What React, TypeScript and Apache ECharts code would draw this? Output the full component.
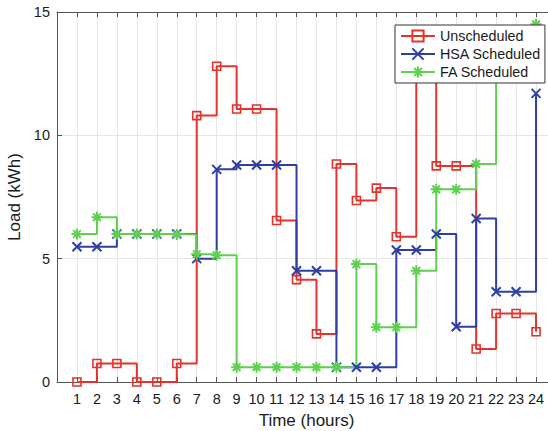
import React, { useEffect, useRef } from "react";
import * as echarts from "echarts";

const hours = [1, 2, 3, 4, 5, 6, 7, 8, 9, 10, 11, 12, 13, 14, 15, 16, 17, 18, 19, 20, 21, 22, 23, 24];
const unscheduled = [0, 0.75, 0.75, 0, 0, 0.75, 10.8, 12.8, 11.07, 11.07, 6.55, 4.15, 1.95, 8.84, 7.36, 7.86, 5.89, 13.5, 8.76, 8.76, 1.34, 2.78, 2.78, 2.04];
const hsaScheduled = [5.48, 5.48, 6.0, 6.0, 6.0, 6.0, 5.0, 8.62, 8.8, 8.8, 8.8, 4.51, 4.51, 0.6, 0.6, 0.6, 5.35, 5.35, 6.0, 2.24, 6.63, 3.66, 3.66, 11.7];
const faScheduled = [6.0, 6.68, 6.0, 6.0, 6.0, 5.98, 5.18, 5.14, 0.6, 0.6, 0.6, 0.6, 0.6, 0.6, 4.78, 2.22, 2.22, 4.51, 7.81, 7.81, 8.84, 13.0, 13.5, 14.5];
const yTicks = [0, 5, 10, 15];

const RED = "#e4332c";
const BLUE = "#2e3fa3";
const GREEN = "#5fcf4f";
const FONT = "Arial, 'Liberation Sans', Helvetica, sans-serif";

export default function App() {
  const ref = useRef<HTMLDivElement>(null);
  useEffect(() => {
    document.body.style.margin = "0";
    const chart = echarts.init(ref.current!, null, { renderer: "svg" });
    const pts = (arr: number[]) => hours.map((h, i) => [h, arr[i]]);
    const option: any = {
      animation: false,
      backgroundColor: "#ffffff",
      textStyle: { fontFamily: FONT },
      grid: { left: 57, top: 12, width: 499, height: 370, outerBoundsMode: "none", containLabel: false },
      legend: {
        orient: "vertical",
        left: 395,
        top: 25,
        padding: [4, 4, 4, 5],
        itemGap: 4,
        itemWidth: 34,
        itemHeight: 14,
        backgroundColor: "#ffffff",
        borderColor: "#333333",
        borderWidth: 1,
        borderRadius: 0,
        textStyle: { fontSize: 14.3, color: "#1a1a1a", fontFamily: FONT },
        data: ["Unscheduled", "HSA Scheduled", "FA Scheduled"],
        z: 10,
      },
      xAxis: [
        {
          type: "value",
          min: 0,
          max: 25,
          interval: 1,
          name: "Time (hours)",
          nameLocation: "middle",
          nameGap: 30,
          nameTextStyle: { fontSize: 17, color: "#1a1a1a", fontFamily: FONT },
          axisLine: { show: true, onZero: false, lineStyle: { color: "#555555", width: 1 } },
          axisTick: { show: true, inside: true, length: 5, lineStyle: { color: "#555555" } },
          axisLabel: {
            margin: 9,
            fontSize: 14.5,
            color: "#1a1a1a",
            fontFamily: FONT,
            formatter: (v: number) => (hours.indexOf(v) >= 0 ? String(v) : ""),
          },
          splitLine: { show: true, lineStyle: { color: "#e6e6e6", width: 1 } },
        },
        {
          type: "value",
          position: "top",
          min: 0,
          max: 25,
          interval: 1,
          axisLine: { show: true, onZero: false, lineStyle: { color: "#555555", width: 1 } },
          axisTick: { show: true, inside: true, length: 5, lineStyle: { color: "#555555" } },
          axisLabel: { show: false },
          splitLine: { show: false },
        },
      ],
      yAxis: {
        type: "value",
        min: 0,
        max: 15,
        interval: 5,
        name: "Load (kWh)",
        nameLocation: "middle",
        nameGap: 30,
        nameTextStyle: { fontSize: 17, color: "#1a1a1a", fontFamily: FONT },
        axisLine: { show: true, onZero: false, lineStyle: { color: "#555555", width: 1 } },
        axisTick: { show: true, inside: true, length: 5, lineStyle: { color: "#555555" } },
        axisLabel: {
          margin: 7,
          fontSize: 14.5,
          color: "#1a1a1a",
          fontFamily: FONT,
          formatter: (v: number) => (yTicks.indexOf(v) >= 0 ? String(v) : ""),
        },
        splitLine: { show: true, lineStyle: { color: "#e6e6e6", width: 1 } },
      },
      series: [
        {
          name: "Unscheduled",
          type: "line",
          step: "end",
          data: pts(unscheduled),
          symbol: "rect",
          symbolSize: 8,
          showAllSymbol: true,
          lineStyle: { color: RED, width: 2 },
          itemStyle: { color: "rgba(255,255,255,0)", borderColor: RED, borderWidth: 1.6 },
          emphasis: { disabled: true },
        },
        {
          name: "HSA Scheduled",
          type: "line",
          step: "end",
          data: pts(hsaScheduled),
          symbol: "path://M0,0L10,10M10,0L0,10",
          symbolSize: 9,
          showAllSymbol: true,
          lineStyle: { color: BLUE, width: 2 },
          itemStyle: { color: "rgba(255,255,255,0)", borderColor: BLUE, borderWidth: 2 },
          emphasis: { disabled: true },
        },
        {
          name: "FA Scheduled",
          type: "line",
          step: "end",
          data: pts(faScheduled),
          symbol: "path://M5,0L5,10M0,5L10,5M1.5,1.5L8.5,8.5M8.5,1.5L1.5,8.5",
          symbolSize: 11,
          showAllSymbol: true,
          lineStyle: { color: GREEN, width: 2 },
          itemStyle: { color: "rgba(255,255,255,0)", borderColor: GREEN, borderWidth: 2 },
          emphasis: { disabled: true },
        },
      ],
    };
    chart.setOption(option);
    return () => chart.dispose();
  }, []);
  return <div ref={ref} style={{ width: 548, height: 431 }} />;
}
